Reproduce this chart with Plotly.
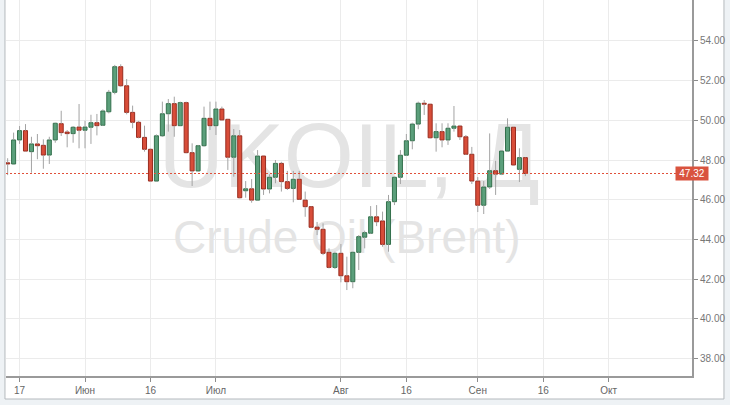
import pandas as pd
import plotly.graph_objects as go

# ---- data (UKOIL daily, from 2016-05-13) ----
opens = [47.86, 47.80, 49.01, 49.48, 48.42, 48.81, 48.74, 48.25, 49.01, 49.83,
         49.41, 49.33, 49.66, 49.50, 49.65, 49.88, 49.75, 50.43, 51.41, 52.70,
         51.74, 50.40, 49.90, 49.14, 48.54, 46.94, 49.22, 50.33, 50.84, 49.73,
         50.89, 48.37, 47.45, 48.72, 50.10, 49.73, 50.57, 50.05, 48.14, 49.22,
         46.45, 46.55, 45.98, 48.20, 46.54, 47.13, 47.83, 46.91, 46.57, 47.03,
         45.98, 45.65, 44.62, 44.51, 43.35, 42.59, 43.30, 42.17, 41.87, 43.35,
         44.11, 44.31, 45.14, 44.93, 43.75, 45.90, 47.13, 48.24, 48.97, 49.81,
         50.86, 50.81, 49.12, 49.43, 49.01, 49.60, 49.71, 49.17, 48.29, 46.94,
         45.72, 46.64, 47.46, 47.29, 48.45, 49.65, 47.53, 48.12]
highs = [48.09, 49.38, 49.71, 49.81, 49.17, 49.31, 49.04, 49.17, 49.88, 50.48,
         49.51, 49.71, 50.82, 49.98, 50.28, 50.32, 50.55, 51.53, 52.79, 52.82,
         52.08, 50.74, 49.97, 49.73, 48.57, 49.29, 50.94, 51.07, 51.19, 50.94,
         50.94, 48.84, 48.76, 50.69, 50.94, 50.94, 50.69, 50.07, 49.56, 49.51,
         46.94, 47.04, 48.50, 48.22, 47.28, 48.00, 47.91, 47.45, 47.45, 47.45,
         46.41, 45.67, 44.88, 44.81, 43.55, 43.38, 43.77, 43.13, 43.38, 44.22,
         44.44, 45.68, 45.73, 45.40, 46.24, 47.16, 48.50, 49.31, 49.88, 50.94,
         51.02, 50.83, 49.85, 49.85, 49.85, 50.72, 49.77, 49.26, 48.66, 47.14,
         46.94, 49.34, 47.96, 48.50, 50.10, 49.66, 48.59, 48.14]
lows = [47.24, 47.78, 48.81, 48.42, 47.36, 48.04, 47.56, 47.80, 48.87, 49.21,
        48.64, 48.87, 48.59, 48.59, 48.81, 49.24, 49.71, 50.35, 51.31, 51.69,
        50.30, 49.60, 49.09, 48.42, 46.91, 46.91, 49.17, 49.43, 49.17, 49.71,
        48.34, 46.69, 47.41, 48.67, 49.51, 49.26, 50.00, 47.50, 47.16, 46.07,
        46.10, 45.85, 45.97, 46.24, 46.32, 46.83, 46.41, 46.49, 45.87, 46.00,
        45.14, 44.56, 44.22, 43.21, 42.54, 42.51, 41.84, 41.45, 41.54, 42.46,
        43.55, 44.27, 44.67, 43.63, 43.38, 45.73, 46.79, 48.20, 48.54, 49.55,
        50.27, 49.09, 48.42, 48.64, 48.76, 49.43, 49.01, 48.25, 46.79, 45.38,
        45.28, 46.54, 46.24, 47.24, 48.42, 47.72, 46.89, 47.19]
closes = [47.80, 49.01, 49.48, 48.45, 48.81, 48.72, 48.25, 49.01, 49.85, 49.38,
          49.33, 49.65, 49.50, 49.66, 49.88, 49.73, 50.47, 51.41, 52.70, 51.74,
          50.40, 49.90, 49.14, 48.54, 46.94, 49.22, 50.33, 50.84, 49.73, 50.89,
          48.37, 47.45, 48.72, 50.10, 49.73, 50.57, 50.02, 48.14, 49.22, 46.10,
          46.55, 45.98, 48.20, 46.54, 47.13, 47.83, 46.91, 46.57, 47.03, 46.02,
          45.65, 44.61, 44.51, 43.30, 42.59, 43.30, 42.17, 41.87, 43.35, 44.14,
          44.34, 45.14, 44.89, 43.75, 45.90, 47.13, 48.24, 48.97, 49.81, 50.86,
          50.81, 49.12, 49.43, 49.01, 49.60, 49.71, 49.17, 48.29, 46.94, 45.72,
          46.64, 47.46, 47.29, 48.45, 49.65, 47.75, 48.12, 47.32]

last_price = 47.32
y_ticks = [38, 40, 42, 44, 46, 48, 50, 52, 54]
x_tick_dates = ["2016-05-17", "2016-06-01", "2016-06-16", "2016-07-01",
                "2016-08-01", "2016-08-16", "2016-09-01", "2016-09-16", "2016-10-03"]
x_tick_labels = ["17", "Июн", "16", "Июл", "Авг", "16", "Сен", "16", "Окт"]

# trading-day positions (weekdays), extended into the future for the axis
dates = pd.bdate_range("2016-05-13", "2016-10-31")
pos = {d.strftime("%Y-%m-%d"): k for k, d in enumerate(dates)}
n = len(opens)
idx = list(range(n))
tickvals = [pos[d] for d in x_tick_dates]
x_range = [-0.277, 115.0]
y_range = [37.12, 56.06]

GREEN_FILL, GREEN_LINE = "#5b9f7b", "#33704c"
RED_FILL, RED_LINE = "#d84d39", "#9a2c1f"

up = [c >= o for o, c in zip(opens, closes)]
body_lo = [min(o, c) for o, c in zip(opens, closes)]
body_hi = [max(o, c) for o, c in zip(opens, closes)]
body_h = [max(h - l, 0.03) for h, l in zip(body_hi, body_lo)]
fills = [GREEN_FILL if u else RED_FILL for u in up]
edges = [GREEN_LINE if u else RED_LINE for u in up]

# wicks: lower shadow and upper shadow (not through the body)
wx, wy = [], []
for i in idx:
    wx += [i, i, None, i, i, None]
    wy += [lows[i], body_lo[i], None, body_hi[i], highs[i], None]

fig = go.Figure()

# watermark on the base axes (drawn below the overlay with the candles)
fig.add_trace(go.Scatter(x=[57.4], y=[47.75], mode="text", text=["UKOIL, Д"],
                         textposition="middle center", hoverinfo="skip",
                         textfont=dict(size=90, color="#e4e4e4", family="Liberation Sans")))
fig.add_trace(go.Scatter(x=[57.0], y=[43.9], mode="text", text=["Crude Oil (Brent)"],
                         textposition="middle center", hoverinfo="skip",
                         textfont=dict(size=46, color="#e4e4e4", family="Liberation Sans")))

# candles on overlaying axes
fig.add_trace(go.Bar(x=idx, y=body_h, base=body_lo, width=0.68, xaxis="x2", yaxis="y2",
                     marker=dict(color=fills, line=dict(color=edges, width=1)),
                     hoverinfo="skip"))
fig.add_trace(go.Scatter(x=wx, y=wy, mode="lines", hoverinfo="skip", xaxis="x2", yaxis="y2",
                         line=dict(color="#a3a3a3", width=1)))
# last-price line
fig.add_trace(go.Scatter(x=x_range, y=[last_price, last_price], mode="lines",
                         hoverinfo="skip", xaxis="x2", yaxis="y2",
                         line=dict(color="#e0503a", width=1, dash="2px,2px")))

fig.update_layout(
    width=730, height=405,
    margin=dict(l=6, r=38, t=0, b=29, pad=0),
    paper_bgcolor="#eef2f5",
    plot_bgcolor="#ffffff",
    showlegend=False,
    hovermode=False,
    font=dict(family="Liberation Sans", size=10, color="#666666"),
    xaxis=dict(range=x_range, tickvals=tickvals, ticktext=x_tick_labels,
               showgrid=True, gridcolor="#ebebeb", gridwidth=1, zeroline=False,
               ticks="outside", ticklen=4, tickcolor="#8c8c8c",
               showline=True, linecolor="#9a9a9a", linewidth=2,
               tickfont=dict(size=10, color="#666666")),
    yaxis=dict(side="right", range=y_range, tickvals=y_ticks, tickformat=".2f",
               showgrid=True, gridcolor="#ebebeb", gridwidth=1, zeroline=False,
               ticks="outside", ticklen=4, tickcolor="#8c8c8c",
               showline=True, linecolor="#9a9a9a", linewidth=2,
               tickfont=dict(size=10, color="#777777")),
    xaxis2=dict(overlaying="x", range=x_range, visible=False),
    yaxis2=dict(overlaying="y", range=y_range, visible=False, side="right"),
    shapes=[
        dict(type="rect", xref="paper", yref="paper", x0=-0.0015, x1=1.0466,
             y0=-0.0612, y1=1.02, fillcolor="#ffffff",
             line=dict(color="#b4b9be", width=1), layer="below"),
    ],
    annotations=[
        dict(xref="paper", yref="y", x=1.0245, y=last_price, text=f"{last_price:.2f}",
             showarrow=False, bgcolor="#d9533e", width=30, height=11, borderpad=1,
             font=dict(size=10, color="#ffffff", family="Liberation Sans")),
    ],
)

fig.write_html(
    "out.html",
    config={"displayModeBar": False, "staticPlot": True},
    post_script="document.body.style.margin='0';document.body.style.overflow='hidden';",
)
